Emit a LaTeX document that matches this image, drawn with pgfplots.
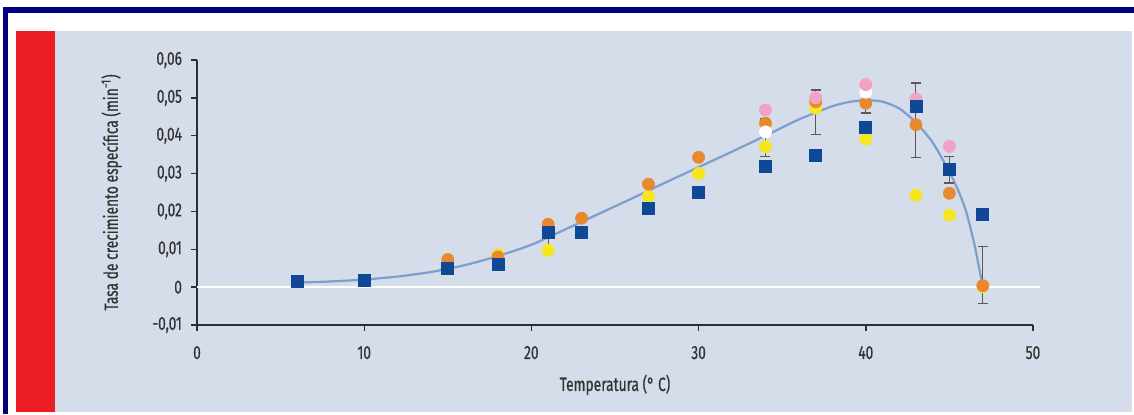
\documentclass[border=0pt]{standalone}
\usepackage{pgfplots}
\pgfplotsset{compat=1.18}
\usetikzlibrary{backgrounds}
\usepackage{fontspec}
\setmainfont{Fira Sans}[FakeStretch=0.72, FakeBold=0.6]
\definecolor{navyb}{HTML}{000080}
\definecolor{panel}{HTML}{D5DCEA}
\definecolor{redbar}{HTML}{EC1C24}
\definecolor{sqblue}{HTML}{0E4896}
\definecolor{orng}{HTML}{E8892E}
\definecolor{yell}{HTML}{F6E61E}
\definecolor{pink}{HTML}{F2A2C4}
\definecolor{curve}{HTML}{7E9ECB}
\definecolor{txt}{HTML}{333333}
\definecolor{axc}{HTML}{2E2E2E}
\begin{document}
\begin{tikzpicture}
\begin{axis}[
  scale only axis, width=418pt, height=132.5pt,
  xmin=0, xmax=50, ymin=-0.01, ymax=0.06,
  scaled y ticks=false,
  axis x line*=bottom, axis y line*=left,
  axis line style={axc, line width=0.9pt, -},
  tick style={axc, line width=0.7pt},
  tick align=outside, major tick length=3pt,
  xtick={0,10,20,30,40,50},
  xticklabels={0,10,20,30,40,50},
  ytick={-0.01,0,0.01,0.02,0.03,0.04,0.05,0.06},
  yticklabels={{-0,01},{0},{0,01},{0,02},{0,03},{0,04},{0,05},{0,06}},
  ticklabel style={font=\fontsize{9.5}{11}\selectfont, text=txt},
  xticklabel style={yshift=-4pt},
  yticklabel style={xshift=-1pt},
  xlabel={Temperatura (° C)},
  ylabel={Tasa de crecimiento específica (min\textsuperscript{−1})},
  label style={font=\fontsize{9.6}{11}\selectfont, text=txt},
  xlabel style={at={(axis description cs:0.5,-0.226)}, anchor=center},
  ylabel style={at={(axis description cs:-0.102,0.5)}, anchor=center},
  clip=false,
]
\coordinate (O) at (rel axis cs:0,0);
\addplot[white, line width=1.2pt] coordinates {(0,0) (50.4,0)};
% fitted curve
\addplot[curve, line width=1.1pt, smooth, tension=0.4] coordinates {
(6,0.0012) (8,0.0015) (10,0.0020) (12,0.0028) (14,0.0040) (16,0.0058)
(18,0.0082) (20,0.0112) (22,0.0152) (24,0.0193) (26,0.0234) (28,0.0276)
(30,0.0317) (32,0.0358) (34,0.0400) (36,0.0443) (38,0.0478) (39,0.0489)
(40,0.0494) (41,0.0490) (42,0.0472) (43,0.0435) (44,0.0382) (45,0.0305)
(45.5,0.0258) (46,0.0200) (46.5,0.0112) (47,0.0000)};
% yellow
\addplot[only marks, mark=*, mark size=3pt, mark options={draw=yell, fill=yell}] coordinates {
(18,0.0086) (21,0.0097) (27,0.0240) (30,0.0300) (34,0.0371) (37,0.0473)
(40,0.0391) (43,0.0243) (45,0.0190) (47,0.0001)};
% orange
\addplot[only marks, mark=*, mark size=3pt, mark options={draw=orng, fill=orng}] coordinates {
(15,0.0073) (18,0.0080) (21,0.0166) (23,0.0182) (27,0.0272) (30,0.0343)
(34,0.0433) (37,0.0490) (40,0.0486) (43,0.0429) (45,0.0248) (47,0.0004)};
% white
\addplot[only marks, mark=*, mark size=3pt, mark options={draw=white, fill=white}] coordinates {
(34,0.0410) (40,0.0515)};
% pink
\addplot[only marks, mark=*, mark size=3pt, mark options={draw=pink, fill=pink}] coordinates {
(34,0.0468) (37,0.0500) (40,0.0535) (43,0.0497) (45,0.0372)};
% blue squares
\addplot[only marks, mark=square*, mark size=3pt, mark options={draw=sqblue, fill=sqblue}] coordinates {
(6,0.0014) (10,0.0019) (15,0.0049) (18,0.0061) (21,0.0144) (23,0.0144)
(27,0.0208) (30,0.0250) (34,0.0318) (37,0.0347) (40,0.0422) (43,0.0477)
(45,0.0311) (47,0.0192)};
% error bars
\addplot[draw=none, mark=none, error bars/.cd, y dir=both, y explicit,
  error bar style={draw=black!65, line width=0.5pt},
  error mark options={black!65, rotate=90, mark size=2.5pt, line width=0.6pt}]
  coordinates {
(21,0.0133) +- (0,0.0030)
(34,0.0395) +- (0,0.0049)
(37,0.04625) +- (0,0.00585)
(40,0.0500) +- (0,0.0040)
(43,0.04405) +- (0,0.00985)
(45,0.0310) +- (0,0.0035)
(47,0.00325) +- (0,0.00755)};
\end{axis}
% background, px (X,Y) -> (X-197, 325-Y) in 0.5pt units from axis corner
\begin{scope}[on background layer, shift={(O)}, x=0.5pt, y=0.5pt]
\fill[white] (-197,-89) rectangle (937,325);
\fill[navyb] (-194,312) rectangle (937,318);
\fill[navyb] (-194,-89) rectangle (-189,318);
\fill[panel] (-181,-87) rectangle (935,294);
\fill[redbar] (-181,-87) rectangle (-142,294);
\end{scope}
\end{tikzpicture}
\end{document}
